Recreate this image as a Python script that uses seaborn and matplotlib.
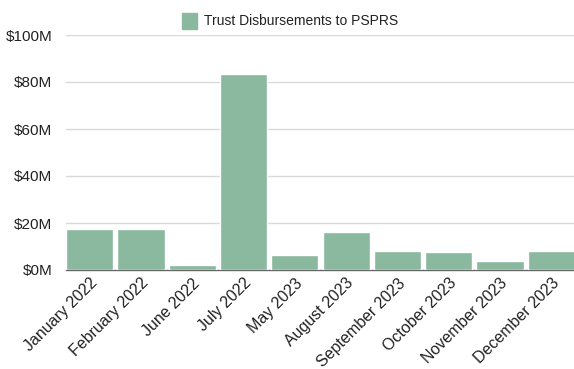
import numpy as np
import pandas as pd
import seaborn as sns
import matplotlib.pyplot as plt
from matplotlib.patches import Patch

months = ["January 2022", "February 2022", "June 2022", "July 2022", "May 2023",
          "August 2023", "September 2023", "October 2023", "November 2023", "December 2023"]
disbursements = [17.4, 17.4, 2.0, 83.4, 6.4, 16.0, 8.0, 7.7, 3.8, 8.1]  # $M
series_name = "Trust Disbursements to PSPRS"
bar_color = "#8ab99f"
text_color = "#222222"

df = pd.DataFrame({"month": months, "value": disbursements})

sns.set_theme(style="white")
plt.rcParams['font.family'] = ['Liberation Sans', 'DejaVu Sans']

fig = plt.figure(figsize=(5.74, 3.69), dpi=100)
ax = fig.add_axes([66 / 574, 1 - 270 / 369, 511 / 574, 235 / 369])

sns.barplot(data=df, x="month", y="value", color=bar_color, width=0.92,
            saturation=1, ax=ax, zorder=3)

ax.set_ylim(0, 100)
ax.set_xlim(-0.46, len(months) - 0.5)
ax.set_yticks(range(0, 101, 20))
ax.set_yticklabels([f"${v}M" for v in range(0, 101, 20)], fontsize=11, color=text_color)
ax.yaxis.grid(True, color="#d9d9d9", linewidth=1, zorder=0)
ax.tick_params(axis="y", length=0, pad=10)
ax.tick_params(axis="x", length=0, pad=4)
plt.setp(ax.get_xticklabels(), rotation=45, ha="right", rotation_mode="anchor",
         fontsize=11.5, color=text_color)
ax.set_xlabel("")
ax.set_ylabel("")
for side in ["top", "right", "left"]:
    ax.spines[side].set_visible(False)
ax.spines["bottom"].set_color("#666666")
ax.spines["bottom"].set_linewidth(1)

fig.legend(handles=[Patch(color=bar_color, label=series_name)], loc="upper center",
           bbox_to_anchor=(290 / 574, 1.0), frameon=False, fontsize=10,
           handlelength=1.1, handleheight=1.4, handletextpad=0.5,
           labelcolor=text_color)

fig.savefig("out.png", dpi=100)
